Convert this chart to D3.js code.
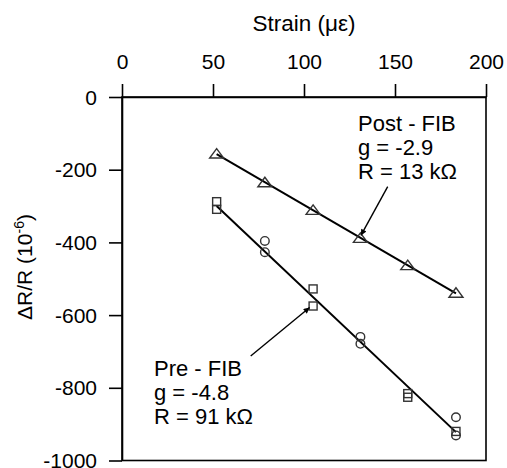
<!DOCTYPE html>
<html>
<head>
<meta charset="utf-8">
<script src="https://cdn.jsdelivr.net/npm/d3@7"></script>
<style>
  body { margin: 0; background: #fff; }
  svg text { font-family: "Liberation Sans", Arial, Helvetica, sans-serif; fill: #000; }
</style>
</head>
<body>
<div id="chart"></div>
<script>
const width = 507;
const height = 468;

// Chart values
const xTicks = [0, 50, 100, 150, 200];
const yTicks = [0, -200, -400, -600, -800, -1000];

// Post-FIB (triangles)
const postStrain = [52, 78.5, 105, 131, 157, 183.5];
const postValue = [-157, -236, -312, -389, -464, -540];

// Pre-FIB squares
const preSquareStrain = [52, 52, 105, 105, 157, 157, 183.5];
const preSquareValue = [-288, -309, -528, -575, -816, -826, -920];

// Pre-FIB circles
const preCircleStrain = [78.5, 78.5, 131, 131, 183.5, 183.5];
const preCircleValue = [-396, -427, -660, -679, -881, -931];

// Fitted lines (end points)
const postFit = [[52, -157], [183.5, -540]];
const preFit = [[52, -300], [183.5, -922]];

const margin = { top: 97, right: 21, bottom: 7.5, left: 122 };

const svg = d3
  .select("#chart")
  .append("svg")
  .attr("width", width)
  .attr("height", height);

const defs = svg.append("defs");
defs.append("marker")
  .attr("id", "arrow")
  .attr("viewBox", "0 0 10 10")
  .attr("refX", 10)
  .attr("refY", 5)
  .attr("markerWidth", 9)
  .attr("markerHeight", 6)
  .attr("markerUnits", "userSpaceOnUse")
  .attr("orient", "auto")
  .append("path")
  .attr("d", "M0,0 L10,5 L0,10 Z")
  .attr("fill", "#000");

const xScale = d3.scaleLinear()
  .domain([0, 200])
  .range([margin.left, width - margin.right]);

const yScale = d3.scaleLinear()
  .domain([-1000, 0])
  .range([height - margin.bottom, margin.top]);

// Frame (bottom and right sides, no ticks)
svg.append("rect")
  .attr("x", xScale(0))
  .attr("y", yScale(0))
  .attr("width", xScale(200) - xScale(0))
  .attr("height", yScale(-1000) - yScale(0))
  .attr("fill", "none")
  .attr("stroke", "#000")
  .attr("stroke-width", 1.6);

// Top axis
const xAxis = svg.append("g")
  .attr("transform", `translate(0, ${yScale(0)})`)
  .call(d3.axisTop(xScale).tickValues(xTicks).tickFormat(d => String(d))
    .tickSize(13).tickPadding(15).tickSizeOuter(0));
xAxis.select(".domain").attr("stroke-width", 1.6);
xAxis.selectAll(".tick line").attr("stroke-width", 1.6);
xAxis.selectAll("text").style("font-size", "21px");

// Left axis
const yAxis = svg.append("g")
  .attr("transform", `translate(${xScale(0)}, 0)`)
  .call(d3.axisLeft(yScale).tickValues(yTicks).tickFormat(d => String(d))
    .tickSize(13).tickPadding(12).tickSizeOuter(0));
yAxis.select(".domain").attr("stroke-width", 1.6);
yAxis.selectAll(".tick line").attr("stroke-width", 1.6);
yAxis.selectAll("text").style("font-size", "21px").attr("dy", "0.34em");

// Axis titles
svg.append("text")
  .attr("x", (xScale(0) + xScale(200)) / 2)
  .attr("y", 31)
  .attr("text-anchor", "middle")
  .style("font-size", "22.5px")
  .text("Strain (με)");

const yTitle = svg.append("text")
  .attr("transform", `translate(32, 267) rotate(-90)`)
  .attr("text-anchor", "middle")
  .style("font-size", "21px");
yTitle.append("tspan").text("ΔR/R (10");
yTitle.append("tspan").attr("dy", -8).style("font-size", "14px").text("-6");
yTitle.append("tspan").attr("dy", 8).text(")");

// Fit lines
const line = d3.line().x(d => xScale(d[0])).y(d => yScale(d[1]));
svg.append("path").datum(postFit).attr("d", line)
  .attr("fill", "none").attr("stroke", "#000").attr("stroke-width", 2);
svg.append("path").datum(preFit).attr("d", line)
  .attr("fill", "none").attr("stroke", "#000").attr("stroke-width", 2);

// Markers
const markerColor = "#333";
const postData = postStrain.map((s, i) => ({ s, v: postValue[i] }));
const squareData = preSquareStrain.map((s, i) => ({ s, v: preSquareValue[i] }));
const circleData = preCircleStrain.map((s, i) => ({ s, v: preCircleValue[i] }));

svg.append("g").selectAll("path")
  .data(postData)
  .join("path")
  .attr("transform", d => `translate(${xScale(d.s)}, ${yScale(d.v)})`)
  .attr("d", "M0,-5.5 L7,4 L-7,4 Z")
  .attr("fill", "none")
  .attr("stroke", markerColor)
  .attr("stroke-width", 1.4);

svg.append("g").selectAll("rect")
  .data(squareData)
  .join("rect")
  .attr("x", d => xScale(d.s) - 4)
  .attr("y", d => yScale(d.v) - 4)
  .attr("width", 8)
  .attr("height", 8)
  .attr("fill", "none")
  .attr("stroke", markerColor)
  .attr("stroke-width", 1.4);

svg.append("g").selectAll("circle")
  .data(circleData)
  .join("circle")
  .attr("cx", d => xScale(d.s))
  .attr("cy", d => yScale(d.v))
  .attr("r", 4.3)
  .attr("fill", "none")
  .attr("stroke", markerColor)
  .attr("stroke-width", 1.4);

// Annotations
function addLabel(x, y, lines) {
  const t = svg.append("text").style("font-size", "22px");
  lines.forEach((txt, i) => {
    t.append("tspan").attr("x", x).attr("y", y + i * 24.2).text(txt);
  });
}
addLabel(358, 131, ["Post - FIB", "g = -2.9", "R = 13 kΩ"]);
addLabel(154, 376, ["Pre - FIB", "g = -4.8", "R = 91 kΩ"]);

svg.append("line")
  .attr("x1", 387.7).attr("y1", 186.7)
  .attr("x2", xScale(postStrain[3]) + 0.5).attr("y2", yScale(postValue[3]) - 3)
  .attr("stroke", "#000").attr("stroke-width", 1.4)
  .attr("marker-end", "url(#arrow)");

svg.append("line")
  .attr("x1", 250.7).attr("y1", 356)
  .attr("x2", xScale(preSquareStrain[3]) - 3.5).attr("y2", yScale(preSquareValue[3]) + 1.5)
  .attr("stroke", "#000").attr("stroke-width", 1.4)
  .attr("marker-end", "url(#arrow)");
</script>
</body>
</html>
